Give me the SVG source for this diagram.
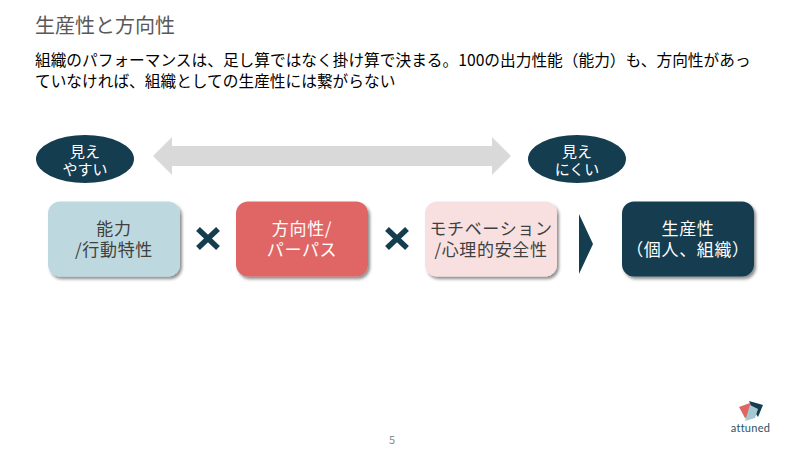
<svg xmlns="http://www.w3.org/2000/svg" width="801" height="451" viewBox="0 0 801 451">
<defs>
<filter id="sh" x="-10%" y="-10%" width="125%" height="125%"><feDropShadow dx="2" dy="2.5" stdDeviation="1.5" flood-color="#000" flood-opacity="0.45"/></filter>
</defs>
<style>
text{font-family:"Noto Sans CJK JP","Noto Sans",sans-serif;text-anchor:middle}
.head{text-anchor:start}
.box{font-size:17px;letter-spacing:0.65px}
.ell{font-size:15px;fill:#fff}
.dark{fill:#404040}
.light{fill:#fff}
</style>
<rect width="801" height="451" fill="#fff"/>
<text class="head" x="35" y="33" font-size="20" fill="#595959">生産性と方向性</text>
<text class="head" font-size="15.7" fill="#000"><tspan x="35" y="66">組織のパフォーマンスは、足し算ではなく掛け算で決まる。100の出力性能（能力）も、方向性があっ</tspan><tspan x="35" y="87">ていなければ、組織としての生産性には繋がらない</tspan></text>
<g id="connectors">
<polygon id="range-arrow" points="153,156 172,137 172,146 492,146 492,137 511,156 492,175 492,166 172,166 172,175" fill="#d9d9d9"/>
<path id="times-1" d="M198,229 L218,248 M218,229 L198,248" stroke="#153d50" stroke-width="5.5" fill="none"/>
<path id="times-2" d="M387,229 L407,248 M407,229 L387,248" stroke="#153d50" stroke-width="5.5" fill="none"/>
<polygon id="chevron" points="579,214 593,244 579,274" fill="#153d50"/>
</g>
<g id="ellipse-easy"><ellipse cx="85" cy="159" rx="49" ry="24" fill="#153d50"/><text class="ell"><tspan x="85" y="157">見え</tspan><tspan x="85" y="175">やすい</tspan></text></g>
<g id="ellipse-hard"><ellipse cx="577" cy="159" rx="49" ry="24" fill="#153d50"/><text class="ell"><tspan x="577" y="157">見え</tspan><tspan x="577" y="175">にくい</tspan></text></g>
<g id="node-ability"><rect x="48" y="201.5" width="132" height="75" rx="12" fill="#bdd9df" filter="url(#sh)"/><text class="box dark"><tspan x="114" y="235">能力</tspan><tspan x="114" y="256">/行動特性</tspan></text></g>
<g id="node-purpose"><rect x="236" y="201.5" width="132" height="75" rx="12" fill="#e06666" filter="url(#sh)"/><text class="box light"><tspan x="302" y="235">方向性/</tspan><tspan x="302" y="256">パーパス</tspan></text></g>
<g id="node-motivation"><rect x="425" y="201.5" width="132" height="75" rx="12" fill="#f9e0e0" filter="url(#sh)"/><text class="box dark"><tspan x="491" y="235">モチベーション</tspan><tspan x="491" y="256">/心理的安全性</tspan></text></g>
<g id="node-productivity"><rect x="622" y="201.5" width="132" height="75" rx="12" fill="#153d50" filter="url(#sh)"/><text class="box light"><tspan x="688" y="235">生産性</tspan><tspan x="688" y="256">（個人、組織）</tspan></text></g>
<text x="392" y="444" font-size="11" fill="#8c8c8c">5</text>
<g id="logo">
<polygon points="739,407 750,403 756,416 745,418" fill="#e06666"/>
<polygon points="749,401 763,405 758,417 752,408" fill="#153d50"/>
<polygon points="750,405 758,409 755,418 745,421" fill="#a3c9d1"/>
<text x="750.5" y="432" font-size="11" fill="#2b5263" letter-spacing="0.3" style="font-family:Lato,sans-serif">attuned</text>
</g>
</svg>
